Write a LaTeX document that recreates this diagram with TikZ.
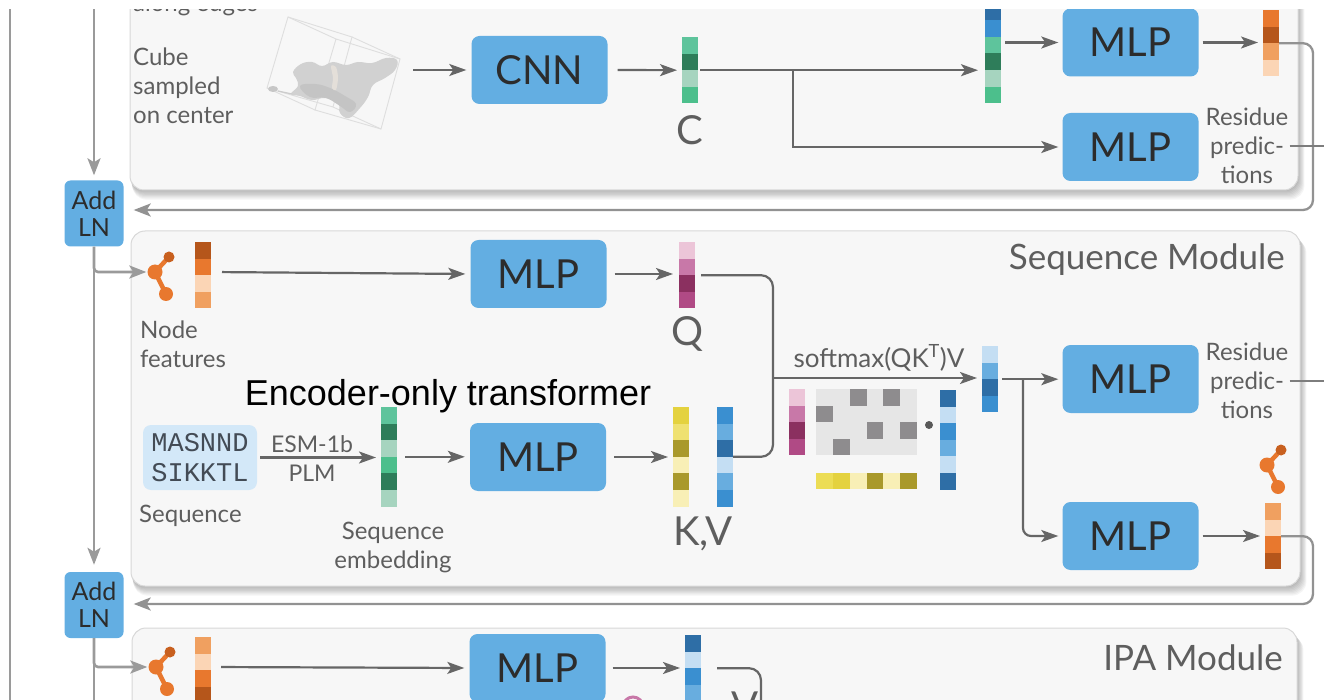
\documentclass[tikz,border=0pt]{standalone}
\usepackage{fontspec}
\setmainfont{Lato}
\newfontfamily\encfont{Liberation Sans}
\newfontfamily\seqfont{Liberation Mono}
\usetikzlibrary{arrows.meta,calc}

% palette
\definecolor{boxblue}{HTML}{63AEE2}
\definecolor{seqblue}{HTML}{D3E8F8}
\definecolor{seqtxt}{HTML}{434B55}
\definecolor{modfill}{HTML}{F7F7F7}
\definecolor{modline}{HTML}{D8D8D8}
\definecolor{linedark}{HTML}{666666}
\definecolor{linegray}{HTML}{9A9A9A}
\definecolor{txtgray}{HTML}{5E5E5E}
\definecolor{txtdark}{HTML}{2C2C2C}
\definecolor{gA}{HTML}{5EC49C}
\definecolor{gB}{HTML}{2E7D5A}
\definecolor{gC}{HTML}{A6D4BF}
\definecolor{gD}{HTML}{4CBF8C}
\definecolor{oA}{HTML}{E8782E}
\definecolor{oB}{HTML}{B5561B}
\definecolor{oC}{HTML}{F0A060}
\definecolor{oD}{HTML}{FBD5B5}
\definecolor{oT}{HTML}{C8601F}
\definecolor{pA}{HTML}{ECC5D8}
\definecolor{pB}{HTML}{C878A8}
\definecolor{pC}{HTML}{8B3060}
\definecolor{pD}{HTML}{B04A85}
\definecolor{bA}{HTML}{2E6EA6}
\definecolor{bB}{HTML}{3A8FD0}
\definecolor{bC}{HTML}{68ADDF}
\definecolor{bD}{HTML}{C4DEF3}
\definecolor{yA}{HTML}{E4D23F}
\definecolor{yB}{HTML}{EFE171}
\definecolor{yC}{HTML}{A9992B}
\definecolor{yD}{HTML}{F8EFB6}
\definecolor{yE}{HTML}{ECDD55}
\definecolor{mA}{HTML}{E6E6E6}
\definecolor{mB}{HTML}{8E8C8E}

\tikzset{
  conn/.style={draw=linedark, line width=2.2pt},
  arr/.style={conn, -{Stealth[length=17pt,width=12pt,inset=4pt]}, shorten >=5pt},
  outer/.style={draw=linegray, line width=2.6pt},
  outerarr/.style={outer, -{Stealth[length=17pt,width=13pt,inset=4pt]}},
  retarr/.style={draw=linegray!95!black, line width=2.3pt, -{Stealth[length=17pt,width=13pt,inset=4pt]}},
  mlpbox/.style={fill=boxblue, rounded corners=8pt, minimum width=136pt, minimum height=68pt,
    inner sep=0pt, text=txtdark, font=\fontsize{40}{40}\selectfont},
  lnbox/.style={fill=boxblue, rounded corners=6pt, minimum width=59pt, minimum height=66pt,
    inner sep=0pt, align=center, text=txtdark, font=\fontsize{25}{27}\selectfont},
  lbl/.style={text=txtgray, inner sep=0pt, font=\fontsize{24}{29}\selectfont},
  biglbl/.style={text=txtgray, inner sep=0pt, font=\fontsize{40}{40}\selectfont},
  titlelbl/.style={text=txtgray, inner sep=0pt, font=\fontsize{35}{35}\selectfont},
  barframe/.style={inner sep=0pt, outer sep=0pt, minimum width=16pt},
}

% a column of coloured cells: name, top-left corner, number of cells, colours top to bottom
\newcommand\cellbar[4]{%
  \node[barframe, minimum height=#3*16.6pt, anchor=north west] (#1) at (#2) {};
  \foreach \cc [count=\ii from 0] in {#4}
    \fill[\cc] ($(#1.north west)+(0,\ii*16.6)$) rectangle ++(16,16.6);
}

% rounded module panel with a soft shadow: top-left, bottom-right
\newcommand\modpanel[2]{%
  \foreach \k in {1,...,8}
    \fill[black, opacity=0.04, rounded corners=14pt]
      ($(#1)+(\k*0.3,\k*1.0)$) rectangle ($(#2)+(\k*0.8,\k*1.2)$);
  \draw[fill=modfill, draw=modline, line width=1pt, rounded corners=14pt] (#1) rectangle (#2);
}

% three-atom residue glyph: name, centre of the middle atom
\newcommand\resicon[2]{%
  \coordinate (#1c) at (#2);
  \draw[oA, line width=4.5pt] ($(#1c)+(14,-15)$) -- (#1c) -- ($(#1c)+(11,22)$);
  \node[circle, fill=oA, minimum size=15pt, inner sep=0pt] (#1) at (#1c) {};
  \node[circle, fill=oT, minimum size=11pt, inner sep=0pt] (#1t) at ($(#1c)+(14,-15)$) {};
  \node[circle, fill=oA, minimum size=14pt, inner sep=0pt] (#1b) at ($(#1c)+(11,22)$) {};
}

\begin{document}
\begin{tikzpicture}[x=1pt, y=-1pt]
\useasboundingbox (0,0) rectangle (1324,700);
\begin{scope}
\clip (0,10) rectangle (1324,700);

% ---------- module panels ----------
\modpanel{130,-40}{1298,190}
\modpanel{131,231}{1300,586}
\modpanel{132,628}{1297,780}

% ---------- residual rails ----------
\coordinate (railtop) at (10,0);
\coordinate (railbot) at (10,710);
\draw[outer] (railtop) -- (railbot);
\coordinate (in0) at (94,0);
\coordinate (out0) at (94,710);
\coordinate (edge) at (1330,0);

\node[lnbox] (ln1) at (94,213.5) {Add\\LN};
\node[lnbox] (ln2) at (94,605) {Add\\LN};

% ---------- cube module ----------
\node[lbl, anchor=base west] (edgetxt) at (133,12) {along edges};
\node[lbl, anchor=north west, align=left] (cubetxt) at (133,48) {Cube\\sampled\\on center};

\node[inner sep=0pt, minimum width=140pt, minimum height=125pt] (cube) at (335,77.5) {};
\begin{scope}[draw=black!13, line width=0.9pt]
  \draw (267,88) -- (288,17) -- (352,37) -- (333,107) -- cycle;
  \draw (315,110) -- (336,39) -- (400,59) -- (381,129) -- cycle;
  \draw (267,88) -- (315,110) (288,17) -- (336,39) (352,37) -- (400,59) (333,107) -- (381,129);
\end{scope}
\fill[black!18] plot[smooth cycle, tension=0.7] coordinates {(293,72) (301,64) (312,62) (322,66) (333,62)
  (346,65) (358,62) (372,63) (386,58) (397,60) (395,70) (385,78) (373,85) (368,97) (360,108)
  (349,118) (340,113) (338,103) (325,98) (312,100) (300,96) (291,94) (298,86) (296,78)};
\fill[black!23] plot[smooth cycle, tension=0.7] coordinates {(300,86) (315,84) (330,88) (345,96) (356,104)
  (350,112) (340,106) (326,98) (310,97)};
\fill[black!22] (273,89) ellipse (5pt and 3pt);
\draw[black!20, line width=1.2pt] (278,91) -- (292,94);
\fill[orange!30!black!15] plot[smooth cycle] coordinates {(331,66) (336,67) (338,78) (336,90) (332,88) (333,78)};

\node[mlpbox] (cnn) at (539.5,70) {CNN};
\cellbar{cbar}{682,37}{4}{gA,gB,gC,gD}
\node[biglbl, anchor=base] (clbl) at (690,145) {C};
\cellbar{catbar}{985,3.6}{6}{bA,bB,gA,gB,gC,gD}
\node[mlpbox] (mlp1) at (1130.5,42.5) {MLP};
\node[mlpbox] (mlp2) at (1130.5,147) {MLP};
\cellbar{obar1}{1263,10}{4}{oA,oB,oC,oD}
\node[lbl, align=center, inner sep=1pt] (res1) at (1247,146) {Residue\\predic-\\tions};

\draw[arr, shorten <=0pt] (cube.east |- cnn.west) ++(8,0) -- (cnn.west);
\draw[arr, shorten <=10pt] (cnn.east) -- (cbar.west);
\draw[arr, shorten <=2pt, shorten >=7pt] (cbar.east) -- (cbar.east -| catbar.west);
\coordinate (br1) at (793,70);
\draw[arr, shorten >=4pt] (br1) |- (mlp2.west);
\draw[arr, shorten <=4pt, shorten >=4pt] (catbar.east |- mlp1.west) -- (mlp1.west);
\draw[arr, shorten <=4pt] (mlp1.east) -- (mlp1.east -| obar1.west);
\coordinate (rc1) at (1313,210);
\draw[retarr, rounded corners=10pt, shorten >=10pt] (obar1.east) -| (rc1) -- (rc1 -| ln1.east);
\draw[draw=linedark!85, line width=1.3pt] (res1.east) -- (res1.east -| edge);

% ---------- sequence module ----------
\node[titlelbl, anchor=base east] (seqtitle) at (1285,270) {Sequence Module};
\resicon{icA}{155,272}
\cellbar{obar2}{195,242}{4}{oB,oA,oD,oC}
\node[lbl, anchor=north west, align=left] (nodetxt) at (140,321) {Node\\features};
\node[mlpbox] (mlp3) at (538.5,274) {MLP};
\cellbar{qbar}{679,242}{4}{pA,pB,pC,pD}
\node[biglbl, anchor=base] (qlbl) at (687,345) {Q};

\node[text=black, inner sep=0pt, anchor=base, font=\encfont\fontsize{36}{36}\selectfont] (enc) at (448,405) {Encoder-only transformer};

\node[fill=seqblue, rounded corners=8pt, minimum width=114pt, minimum height=65pt, inner sep=0pt,
  align=center, text=seqtxt, font=\seqfont\fontsize{27}{30}\selectfont] (seq) at (200,457.5) {MASNND\\SIKKTL};
\node[lbl, anchor=north west] (seqtxt) at (139,505) {Sequence};
\cellbar{sebar}{381,407}{6}{gA,gB,gC,gD,gB,gC}
\node[lbl, anchor=north, align=center] (embtxt) at (393,522) {Sequence\\embedding};
\node[lbl, anchor=base, font=\fontsize{23}{23}\selectfont] (esm) at (312,452) {ESM-1b};
\node[lbl, anchor=base, font=\fontsize{23}{23}\selectfont] (plm) at (312,481) {PLM};
\node[mlpbox] (mlp6) at (538,457) {MLP};
\cellbar{kbar}{673,407}{6}{yA,yB,yC,yD,yC,yD}
\cellbar{vbar}{717,407}{6}{bB,bC,bA,bD,bC,bB}
\node[biglbl, anchor=base] (kvlbl) at (703,545) {K,V};

% attention sketch
\cellbar{qmini}{789,389}{4}{pA,pB,pC,pD}
\node[fill=mA, minimum width=101pt, minimum height=66pt, inner sep=0pt, anchor=north west] (attn) at (816,389) {};
\foreach \cx/\cy in {2/0,4/0,0/1,3/2,5/2,1/3}
  \fill[mB] ($(attn.north west)+(\cx*16.83,\cy*16.5)$) rectangle ++(16.83,16.5);
\foreach \cc [count=\ii from 0] in {yE,yA,yD,yC,yD,yC}
  \fill[\cc] (816+\ii*16.83,473) rectangle ++(16.83,16);
\node[circle, fill=black!65, minimum size=8pt, inner sep=0pt] (dotop) at (929,425) {};
\cellbar{vmini}{940,390}{6}{bA,bD,bB,bC,bD,bA}
\cellbar{outbar}{982,346}{4}{bD,bC,bA,bB}
\node[lbl, anchor=base, font=\fontsize{26}{26}\selectfont] (smx) at (879,367) {softmax(QK\textsuperscript{T})V};

\node[mlpbox] (mlp4) at (1130.5,379) {MLP};
\node[lbl, align=center, inner sep=1pt] (res2) at (1247,381) {Residue\\predic-\\tions};
\node[mlpbox] (mlp5) at (1130.5,536) {MLP};
\resicon{icC}{1267,465}
\cellbar{obar3}{1265,503}{4}{oC,oD,oA,oB}

\draw[arr, shorten <=11pt] (obar2.east |- icA) -- (mlp3.west);
\draw[arr, shorten <=8pt, shorten >=6pt] (mlp3.east) -- (mlp3.east -| qbar.west);
\coordinate (j1) at (773,378);
\draw[conn, rounded corners=12pt, shorten <=6pt] (qbar.east) -| (vbar.east -| j1) -- (vbar.east);
\draw[arr] (j1) -- (j1 -| outbar.west);
\draw[arr, shorten <=3pt] (seq.east) -- (seq.east -| sebar.west);
\draw[arr, shorten <=8pt] (sebar.east) -- (sebar.east -| mlp6.west);
\draw[arr, shorten <=8pt] (mlp6.east) -- (mlp6.east -| kbar.west);
\draw[arr, shorten <=4pt, shorten >=4pt] (outbar.east) -- (outbar.east -| mlp4.west);
\coordinate (br2) at (1023,379);
\draw[arr, rounded corners=8pt, shorten >=4pt] (br2) |- (mlp5.west);
\draw[arr, shorten <=4pt] (mlp5.east) -- (mlp5.east -| obar3.west);
\coordinate (rc2) at (1313,604);
\draw[retarr, rounded corners=10pt, shorten >=10pt] (obar3.east) -| (rc2) -- (rc2 -| ln2.east);
\draw[draw=linedark!85, line width=1.3pt] (res2.east) -- (res2.east -| edge);

% ---------- IPA module ----------
\node[titlelbl, anchor=base east] (ipatitle) at (1283,670) {IPA Module};
\resicon{icD}{156,667}
\cellbar{obar4}{195,637}{4}{oC,oD,oA,oB}
\node[mlpbox] (mlp7) at (537.5,668) {MLP};
\cellbar{ipabar}{685,635}{4}{bA,bD,bB,bC}
\node[circle, draw=pB, line width=3pt, minimum size=20pt, inner sep=0pt] (pinkc) at (633,707) {};
\node[biglbl, anchor=north] (vlbl) at (745,692) {V};
\coordinate (ipaturn) at (761,730);
\draw[arr, shorten <=10pt] (obar4.east |- icD) -- (mlp7.west);
\draw[arr, shorten <=7pt] (mlp7.east) -- (mlp7.east -| ipabar.west);
\draw[conn, rounded corners=12pt, shorten <=16pt] (ipabar.east) -| (ipaturn);

% ---------- rails into the layer norms ----------
\draw[outerarr, shorten >=5pt] (in0) -- (ln1.north);
\draw[outerarr, shorten >=7pt] (ln1.south) -- (ln2.north);
\draw[outer] (ln2.south) -- (out0);
\draw[outerarr, rounded corners=4pt, shorten >=1pt] (ln1.south) |- (icA.west);
\draw[outerarr, rounded corners=4pt, shorten >=1pt] (ln2.south) |- (icD.west);

\end{scope}
\end{tikzpicture}
\end{document}
